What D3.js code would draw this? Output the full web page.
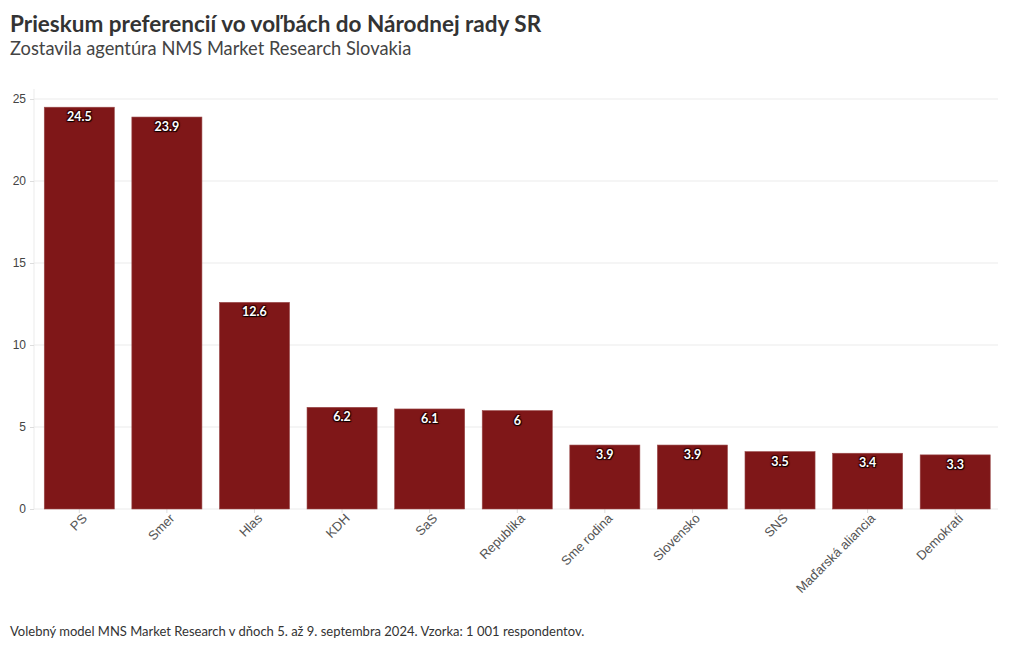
<!DOCTYPE html>
<html><head><meta charset="utf-8">
<script src="https://cdn.jsdelivr.net/npm/d3@7"></script>
<style>
body{margin:0;background:#fff;font-family:"Source Sans Pro","Lato","Noto Sans",sans-serif;}
</style></head>
<body>
<svg id="c" width="1020" height="650"></svg>
<script>
const categories = ["PS","Smer","Hlas","KDH","SaS","Republika","Sme rodina","Slovensko","SNS","Maďarská aliancia","Demokrati"];
const values = [24.5,23.9,12.6,6.2,6.1,6,3.9,3.9,3.5,3.4,3.3];
const yTicks = [0,5,10,15,20,25];
const title = "Prieskum preferencií vo voľbách do Národnej rady SR";
const subtitle = "Zostavila agentúra NMS Market Research Slovakia";
const footer = "Volebný model MNS Market Research v dňoch 5. až 9. septembra 2024. Vzorka: 1 001 respondentov.";

const svg = d3.select("#c");
const m = {l:35.5, r:999, t:99, b:509};
const x = d3.scaleBand().domain(categories).range([m.l, m.r]).paddingInner(0.2).paddingOuter(0.1);
const y = d3.scaleLinear().domain([0,25]).range([m.b, m.t]);

svg.append("text").attr("x",10).attr("y",32).attr("font-size",22.5).attr("font-weight",700).attr("fill","#333").text(title);
svg.append("text").attr("x",10).attr("y",55).attr("font-size",18.3).attr("fill","#444").text(subtitle);
svg.append("text").attr("x",10).attr("y",636).attr("font-size",13).attr("fill","#333").text(footer);

// grid
svg.append("g").selectAll("line").data(yTicks).join("line")
  .attr("x1",34).attr("x2",998).attr("y1",d=>y(d)).attr("y2",d=>y(d))
  .attr("stroke","#ebebeb").attr("stroke-width",1);
svg.append("line").attr("x1",34).attr("x2",34).attr("y1",m.t-10).attr("y2",m.b).attr("stroke","#ebebeb");

// y axis
const ya = svg.append("g").attr("transform",`translate(34,0)`).call(d3.axisLeft(y).tickValues(yTicks).tickSize(4).tickPadding(4));
ya.select(".domain").remove();
ya.selectAll(".tick line").attr("stroke","#ddd");
ya.selectAll("text").attr("font-size",12).attr("fill","#444").attr("font-family","inherit");

// x axis
const xa = svg.append("g").attr("transform",`translate(0,${m.b})`).call(d3.axisBottom(x).tickSize(4));
xa.select(".domain").remove();
xa.selectAll(".tick line").attr("stroke","#ddd");
xa.selectAll("text").attr("font-size",13).attr("fill","#555").attr("font-family","inherit")
  .attr("text-anchor","end").attr("transform","translate(-1,-3) rotate(-45)").attr("dy","0.7em").attr("dx","-0.2em");

// bars
svg.append("g").selectAll("rect").data(values).join("rect")
  .attr("x",(d,i)=>x(categories[i])).attr("width",x.bandwidth())
  .attr("y",d=>y(d)).attr("height",d=>y(0)-y(d))
  .attr("fill","#7f1718").attr("stroke","#9a4a4a").attr("stroke-width",0.6);

// labels
svg.append("g").selectAll("text").data(values).join("text")
  .attr("x",(d,i)=>x(categories[i])+x.bandwidth()/2).attr("y",d=>y(d)+14)
  .attr("text-anchor","middle").attr("font-size",12.5).attr("font-weight",700)
  .attr("fill","#fff").style("text-shadow","1px 1px 1px #000, -1px -1px 1px #300, 1px -1px 1px #300, -1px 1px 1px #300")
  .text(d=>d);
</script>
</body></html>
